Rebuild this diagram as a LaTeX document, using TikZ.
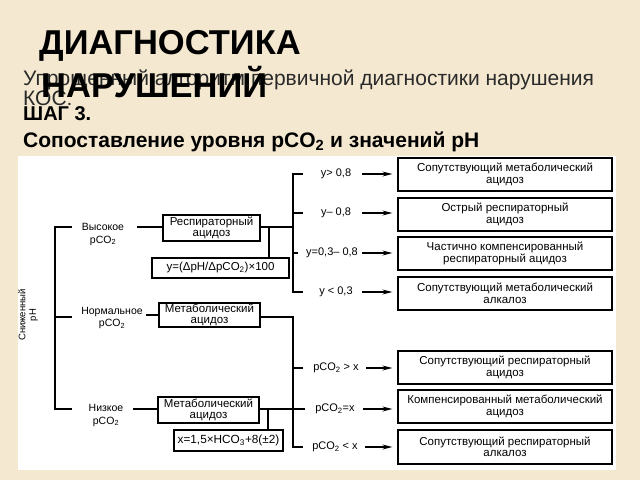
\documentclass[tikz,border=0pt]{standalone}
\usepackage{fontspec}
\setmainfont{Liberation Sans}
\usetikzlibrary{arrows.meta}
\definecolor{bgbeige}{HTML}{F4E8D0}
\definecolor{subgray}{HTML}{2A2A2A}
\newcommand{\myfs}[1]{\fontsize{#1}{#1}\selectfont}
\begin{document}
\begin{tikzpicture}[x=1pt,y=-1pt,
  dtext/.style={inner sep=0pt,align=center,font=\myfs{10.5}\linespread{1.15}\selectfont},
  bx/.style={draw,line width=1.2pt,fill=white,inner sep=0pt,align=center,
             font=\myfs{11.5}\linespread{1.0}\selectfont},
  ln/.style={line width=1.2pt},
  arr/.style={line width=1.2pt,-{Stealth[length=10pt,width=5pt]},shorten >=5pt},
  lbl/.style={inner sep=0pt,font=\myfs{11}}
]
% background and panel
\fill[bgbeige] (0,0) rectangle (640,480);
\useasboundingbox (0,0) rectangle (640,480);
\fill[white] (18,156) rectangle (616,470);

% header texts
\node[anchor=base west,inner sep=0pt,text=subgray,font=\myfs{21}] (sub1) at (23,85)
  {Упрощенный алгоритм первичной диагностики нарушения};
\node[anchor=base west,inner sep=0pt,text=subgray,font=\myfs{21}] (sub2) at (23,105) {КОС:};
\node[anchor=base west,inner sep=0pt,font=\myfs{34.5}\bfseries] (t1) at (39,54) {ДИАГНОСТИКА};
\node[anchor=base west,inner sep=0pt,font=\myfs{34.5}\bfseries] (t2) at (41,97) {НАРУШЕНИЙ};
\node[anchor=base west,inner sep=0pt,font=\myfs{20}\bfseries] (step) at (23,120) {ШАГ 3.};
\node[anchor=base west,inner sep=0pt,font=\myfs{21}\bfseries] (cmp) at (23,147)
  {Сопоставление уровня pCO\textsubscript{2} и значений pH};

% right result boxes
\node[bx,minimum width=214pt,minimum height=33pt] (r1) at (505,174.5) {Сопутствующий метаболический\\ацидоз};
\node[bx,minimum width=214pt,minimum height=33pt] (r2) at (505,214.5) {Острый респираторный\\ацидоз};
\node[bx,minimum width=214pt,minimum height=33pt] (r3) at (505,253.5) {Частично компенсированный\\респираторный ацидоз};
\node[bx,minimum width=214pt,minimum height=33pt] (r4) at (505,293.5) {Сопутствующий метаболический\\алкалоз};
\node[bx,minimum width=214pt,minimum height=33pt] (r5) at (505,367.5) {Сопутствующий респираторный\\ацидоз};
\node[bx,minimum width=214pt,minimum height=33pt] (r6) at (505,406.5) {Компенсированный метаболический\\ацидоз};
\node[bx,minimum width=214pt,minimum height=34pt] (r7) at (505,447) {Сопутствующий респираторный\\алкалоз};

% condition labels
\node[lbl] (l1) at (336,174) {y> 0,8};
\node[lbl] (l2) at (336,213) {y– 0,8};
\node[lbl] (l3) at (332,253) {y=0,3– 0,8};
\node[lbl] (l4) at (336,292) {y < 0,3};
\node[lbl] (l5) at (336,368) {pCO\textsubscript{2} > x};
\node[lbl] (l6) at (335,409) {pCO\textsubscript{2}=x};
\node[lbl] (l7) at (335,447) {pCO\textsubscript{2} < x};

% arrow starts
\coordinate (a1) at (362,174);
\coordinate (a2) at (362,213);
\coordinate (a3) at (362,253);
\coordinate (a4) at (362,292);
\coordinate (a5) at (366,368);
\coordinate (a6) at (363,409);
\coordinate (a7) at (365,447);
\draw[arr] (a1) -- (a1 -| r1.west);
\draw[arr] (a2) -- (a2 -| r2.west);
\draw[arr] (a3) -- (a3 -| r3.west);
\draw[arr] (a4) -- (a4 -| r4.west);
\draw[arr] (a5) -- (a5 -| r5.west);
\draw[arr] (a6) -- (a6 -| r6.west);
\draw[arr] (a7) -- (a7 -| r7.west);

% left part
\node[dtext,rotate=90,font=\myfs{9.5}\linespread{1.1}\selectfont] (ph) at (28,315) {Сниженный\\pH};
\node[dtext] (hi) at (103,234.5) {Высокое\\pCO\textsubscript{2}};
\node[dtext] (no) at (112,318) {Нормальное\\pCO\textsubscript{2}};
\node[dtext] (lo) at (106,415.5) {Низкое\\pCO\textsubscript{2}};

\node[bx,minimum width=97pt,minimum height=26pt] (resp) at (211.5,228) {Респираторный\\ацидоз};
\node[bx,minimum width=137pt,minimum height=20pt,font=\myfs{11.5}] (f1) at (220.5,268) {y=(ΔpH/ΔpCO\textsubscript{2})×100};
\node[bx,minimum width=101pt,minimum height=24pt] (metn) at (209.5,315) {Метаболический\\ацидоз};
\node[bx,minimum width=101pt,minimum height=26pt] (metl) at (208.5,410) {Метаболический\\ацидоз};
\node[bx,minimum width=109pt,minimum height=21pt,font=\myfs{11.8}] (f2) at (228.5,440.5) {x=1,5×HCO\textsubscript{3}+8(±2)};

% left bracket
\coordinate (lbt) at (55,227);
\coordinate (lbm) at (55,317);
\coordinate (lbb) at (55,409);
\coordinate (lt1) at (72,227);
\coordinate (lt2) at (72,317);
\coordinate (lt3) at (72,409);
\draw[ln] (lt1) -- (lbt) -- (lbb) -- (lt3);
\draw[ln] (lbm) -- (lt2);

% text to boxes
\coordinate (h1) at (137,227);
\coordinate (n1) at (146,315);
\coordinate (w1) at (133,409);
\draw[ln] (h1) -- (h1 -| resp.west);
\draw[ln] (n1) -- (n1 -| metn.west);
\draw[ln] (w1) -- (w1 -| metl.west);

% upper bracket
\coordinate (ub1) at (293,174);
\coordinate (ub2) at (293,213);
\coordinate (ub3) at (293,253);
\coordinate (ub4) at (293,292);
\coordinate (ur) at (293,227);
\coordinate (v1) at (269,227);
\draw[ln] (303,174) -- (ub1) -- (ub4) -- (303,292);
\draw[ln] (ub2) -- (303,213);
\draw[ln] (ub3) -- (298,253);
\draw[ln] (resp.east |- ur) -- (ur);
\draw[ln] (v1) -- (v1 |- f1.north);

% lower bracket
\coordinate (mb0) at (293,317);
\coordinate (mb1) at (293,368);
\coordinate (mb3) at (293,447);
\coordinate (mr) at (305,409);
\coordinate (v2) at (268,409);
\draw[ln] (metn.east |- mb0) -- (mb0) -- (mb3) -- (303,447);
\draw[ln] (mb1) -- (303,368);
\draw[ln] (metl.east |- mr) -- (mr);
\draw[ln] (v2) -- (v2 |- f2.north);
\end{tikzpicture}
\end{document}
